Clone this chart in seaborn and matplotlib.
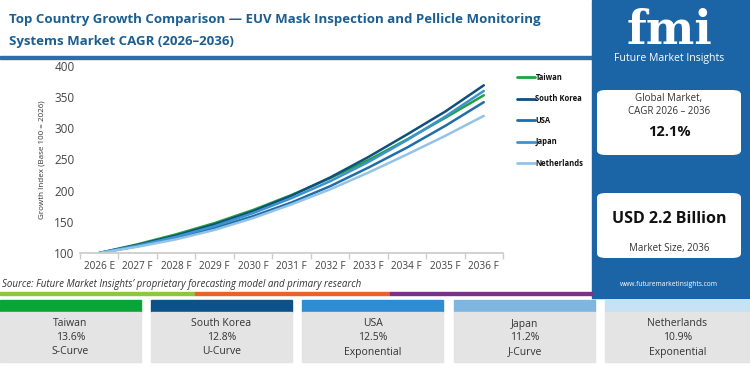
import numpy as np
import pandas as pd
import matplotlib
matplotlib.use("Agg")
import matplotlib.pyplot as plt
import seaborn as sns
from matplotlib.patches import Rectangle, FancyBboxPatch
from matplotlib.lines import Line2D

# Datos
years = ["2026 E", "2027 F", "2028 F", "2029 F", "2030 F", "2031 F",
         "2032 F", "2033 F", "2034 F", "2035 F", "2036 F"]
taiwan = [100, 114, 130, 148, 169, 193, 220, 249, 282, 317, 353]
south_korea = [100, 113, 128, 146, 167, 192, 221, 254, 290, 327, 369]
usa = [100, 111, 124, 140, 159, 181, 207, 237, 269, 304, 342]
japan = [100, 112, 126, 143, 164, 188, 215, 246, 281, 319, 360]
netherlands = [100, 110, 122, 137, 156, 178, 202, 229, 258, 288, 320]

countries = ["Taiwan", "South Korea", "USA", "Japan", "Netherlands"]
cagr_labels = ["13.6%", "12.8%", "12.5%", "11.2%", "10.9%"]
curve_types = ["S-Curve", "U-Curve", "Exponential", "J-Curve", "Exponential"]

line_colors = {"Taiwan": "#1fa33c", "South Korea": "#0e4f7e", "USA": "#1f6ea8",
               "Japan": "#3d92cf", "Netherlands": "#93c3e6"}
card_colors = ["#0aa537", "#0d5189", "#2d8cd2", "#7db7e1", "#c5e1f3"]

series = {"Taiwan": taiwan, "South Korea": south_korea, "USA": usa,
          "Japan": japan, "Netherlands": netherlands}
rows = []
for name, vals in series.items():
    for i, v in enumerate(vals):
        rows.append({"idx": i, "country": name, "value": v})
df = pd.DataFrame(rows)

sns.set_theme(style="white")
plt.rcParams["font.family"] = ["Open Sans", "DejaVu Sans"]

W, H = 750, 367
fig = plt.figure(figsize=(7.5, 3.67), dpi=100)
fig.patch.set_facecolor("white")


def fx(x):
    return x / W


def fy(y):
    return 1 - y / H


def frect(x0, y0, x1, y1, **kw):
    fig.patches.append(Rectangle((fx(x0), fy(y1)), fx(x1 - x0), (y1 - y0) / H,
                                 transform=fig.transFigure, **kw))


# Título
title_color = "#1b5e91"
fig.text(fx(9), fy(20), "Top Country Growth Comparison — EUV Mask Inspection and Pellicle Monitoring",
         fontsize=9.5, fontweight="bold", color=title_color, va="center")
fig.text(fx(9), fy(41), "Systems Market CAGR (2026–2036)",
         fontsize=9.5, fontweight="bold", color=title_color, va="center")
frect(0, 56, 592, 58.5, color="#2a6fab")

# Gráfico principal
ax = fig.add_axes([fx(80), fy(253), fx(503 - 80), (253 - 66) / H])
sns.lineplot(data=df, x="idx", y="value", hue="country", palette=line_colors,
             hue_order=countries, linewidth=1.8, ax=ax, legend=False)
ax.set_xlim(-0.5, 10.5)
ax.set_ylim(100, 400)
ax.set_xticks(range(len(years)))
ax.set_xticklabels(years, fontsize=7.2, color="#444444")
ax.set_xticks(np.arange(-0.5, 10.6, 1), minor=True)
ax.tick_params(axis="x", which="major", length=0, pad=6)
ax.tick_params(axis="x", which="minor", length=4, color="#cccccc", bottom=True)
ax.set_yticks([100, 150, 200, 250, 300, 350, 400])
ax.tick_params(axis="y", labelsize=8.5, labelcolor="#444444", length=0, pad=4)
ax.set_xlabel("")
ax.set_ylabel("Growth Index (Base 100 = 2026)", fontsize=5.8, color="#333333", labelpad=6)
for s in ["top", "right", "left"]:
    ax.spines[s].set_visible(False)
ax.spines["bottom"].set_color("#cccccc")
ax.grid(False)

handles = [Line2D([0], [0], color=line_colors[c], lw=2) for c in countries]
leg = fig.legend(handles, countries, loc="upper left", bbox_to_anchor=(fx(514), fy(70)),
                 frameon=False, fontsize=5.5, handlelength=2.3, handletextpad=0.1,
                 labelspacing=1.62, borderaxespad=0)
for t in leg.get_texts():
    t.set_fontweight("bold")
    t.set_color("#111111")

# Panel derecho
panel_blue = "#1b64a6"
frect(592, 0, 750, 298, color=panel_blue)
fig.text(fx(670), fy(31), "fmi", fontsize=33, fontweight="bold", family="DejaVu Serif",
         color="white", ha="center", va="center")
for yy in np.arange(13, 50, 4.0):
    frect(605, yy, 735, yy + 1.2, color=panel_blue)
fig.text(fx(669), fy(58), "Future Market Insights", fontsize=7.6, color="white",
         ha="center", va="center")

for (y0, y1) in [(90, 155), (193, 258)]:
    fig.patches.append(FancyBboxPatch((fx(597), fy(y1)), fx(741 - 597), (y1 - y0) / H,
                                      boxstyle="round,pad=0,rounding_size=0.012",
                                      transform=fig.transFigure, facecolor="white",
                                      edgecolor="none"))
fig.text(fx(669), fy(99), "Global Market,", fontsize=7, color="#333333", ha="center", va="center")
fig.text(fx(669), fy(111), "CAGR 2026 – 2036", fontsize=7, color="#333333", ha="center", va="center")
fig.text(fx(669), fy(132), "12.1%", fontsize=10.5, fontweight="bold", color="#111111",
         ha="center", va="center")
fig.text(fx(669), fy(219), "USD 2.2 Billion", fontsize=11.5, fontweight="bold", color="#111111",
         ha="center", va="center")
fig.text(fx(669), fy(248), "Market Size, 2036", fontsize=7, color="#333333", ha="center", va="center")
fig.text(fx(669), fy(285), "www.futuremarketinsights.com", fontsize=4.8, color="white",
         ha="center", va="center")

# Fuente y líneas de color
fig.text(fx(2), fy(284.5), "Source: Future Market Insights’ proprietary forecasting model and primary research",
         fontsize=7, style="italic", color="#333333", va="center")
frect(0, 292, 195, 295, color="#8dc63f")
frect(195, 292, 390, 295, color="#e8622c")
frect(390, 292, 592, 295, color="#7b2f8e")

# Tarjetas inferiores
card_x = [(0, 141), (151, 292), (302, 443), (454, 595), (605, 750)]
for i, (x0, x1) in enumerate(card_x):
    frect(x0, 300, x1, 312, color=card_colors[i])
    frect(x0, 312, x1, 362, color="#e4e4e4")
    cx = (x0 + x1) / 2
    fig.text(fx(cx), fy(324), countries[i], fontsize=7.5, color="#333333", ha="center", va="center")
    fig.text(fx(cx), fy(338), cagr_labels[i], fontsize=7.5, color="#333333", ha="center", va="center")
    fig.text(fx(cx), fy(352), curve_types[i], fontsize=7.5, color="#333333", ha="center", va="center")

fig.savefig("out.png", dpi=100)
